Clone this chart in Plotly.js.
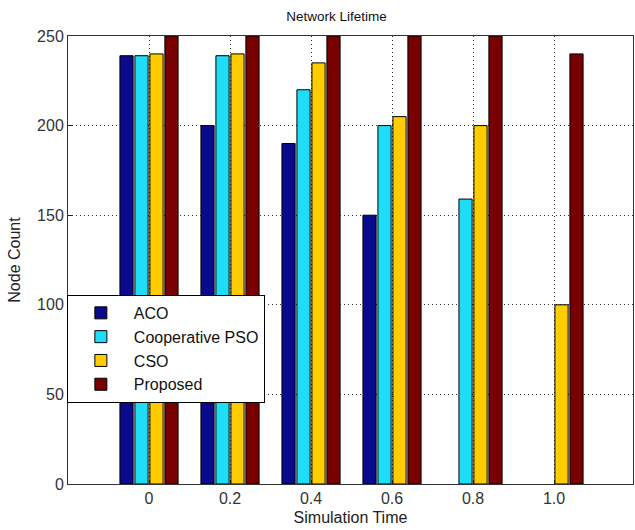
<!DOCTYPE html>
<html>
<head>
<meta charset="utf-8">
<script src="https://cdn.plot.ly/plotly-3.0.1.min.js"></script>
<style>html,body{margin:0;padding:0;background:#fff;}#chart{width:635px;height:530px;}</style>
</head>
<body>
<div id="chart"></div>
<script>
const times = [0, 0.2, 0.4, 0.6, 0.8, 1.0];
const tickLabels = ['0', '0.2', '0.4', '0.6', '0.8', '1.0'];
const seriesNames = ['ACO', 'Cooperative PSO', 'CSO', 'Proposed'];
const aco = [239, 200, 190, 150, null, null];
const coopPso = [239, 239, 220, 200, 159, null];
const cso = [240, 240, 235, 205, 200, 100];
const proposed = [250, 250, 250, 250, 250, 240];
const yTicks = [0, 50, 100, 150, 200, 250];

const colors = ['#0a0a8c', '#1fdcf7', '#ffcc00', '#780000'];
const values = [aco, coopPso, cso, proposed];

const traces = values.map((v, i) => ({
  type: 'bar',
  name: seriesNames[i],
  x: times,
  y: v,
  marker: { color: colors[i], line: { color: '#000', width: 1 } }
}));

const font = 'Liberation Sans, Arial, sans-serif';
const layout = {
  width: 635, height: 530,
  margin: { l: 68, r: 2, t: 36, b: 46 },
  paper_bgcolor: '#fff', plot_bgcolor: '#fff',
  barmode: 'group', bargap: 0.26, bargroupgap: 0.12,
  font: { family: font, size: 13, color: '#222' },
  title: { text: 'Network Lifetime', x: 0.53, xanchor: 'center', y: 0.969, yanchor: 'middle', font: { family: font, size: 13.5, color: '#111' } },
  xaxis: {
    range: [-0.2, 1.195], tickvals: times, ticktext: tickLabels,
    ticks: 'inside', ticklen: 4, tickcolor: '#222',
    showline: true, linecolor: '#333', linewidth: 1, mirror: true,
    showgrid: true, gridcolor: '#333', griddash: '1px,3px', gridwidth: 1,
    zeroline: false, tickfont: { size: 16, color: '#333' },
    title: { text: 'Simulation Time', standoff: 5, font: { size: 16, color: '#222' } }
  },
  yaxis: {
    range: [0, 250], tickvals: yTicks,
    ticks: 'inside', ticklen: 4, tickcolor: '#222',
    showline: true, linecolor: '#333', linewidth: 1, mirror: true,
    showgrid: true, gridcolor: '#333', griddash: '1px,3px', gridwidth: 1,
    zeroline: false, tickfont: { size: 16, color: '#333' },
    title: { text: 'Node Count', standoff: 12, font: { size: 16, color: '#222' } }
  },
  legend: {
    x: -0.002, y: 0.422, xanchor: 'left', yanchor: 'top',
    bgcolor: '#fff', bordercolor: '#000', borderwidth: 1,
    font: { size: 16, color: '#111' }, itemwidth: 56, traceorder: 'normal',
    tracegroupgap: 0
  },
  showlegend: true
};

Plotly.newPlot('chart', traces, layout, { displayModeBar: false, staticPlot: true });
</script>
</body>
</html>
